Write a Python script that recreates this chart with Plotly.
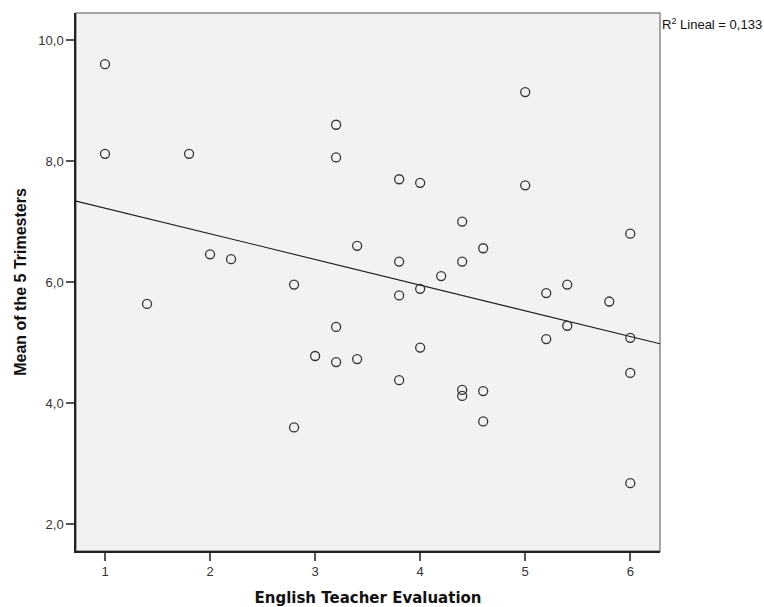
import numpy as np
import plotly.graph_objects as go

# English Teacher Evaluation vs. mean grade of the 5 trimesters
evaluation = [1.0, 1.0, 1.8, 2.0, 2.2, 1.4, 2.8, 2.8, 3.2, 3.2,
              3.8, 4.0, 5.0, 5.0, 4.4, 6.0, 3.4, 3.8, 4.4, 4.6,
              4.2, 4.0, 3.8, 5.2, 5.4, 5.8, 5.4, 5.2, 6.0, 3.2,
              3.0, 3.2, 3.4, 4.0, 3.8, 6.0, 4.4, 4.4, 4.6, 4.6,
              6.0]
trimester_mean = [9.60, 8.12, 8.12, 6.46, 6.38, 5.64, 5.96, 3.60, 8.60, 8.06,
                  7.70, 7.64, 7.60, 9.14, 7.00, 6.80, 6.60, 6.34, 6.34, 6.56,
                  6.10, 5.89, 5.78, 5.82, 5.96, 5.68, 5.28, 5.06, 5.08, 5.26,
                  4.78, 4.68, 4.73, 4.92, 4.38, 4.50, 4.22, 4.12, 4.20, 3.70,
                  2.68]

x_ticks = [1, 2, 3, 4, 5, 6]
y_ticks = [2, 4, 6, 8, 10]
x_range = [0.724, 6.283]
y_range = [1.559, 10.446]

# Least-squares line across the full x range, plus its R²
slope, intercept = np.polyfit(evaluation, trimester_mean, 1)
fit_x = np.array(x_range)
fit_y = intercept + slope * fit_x
pred = intercept + slope * np.array(evaluation)
ss_res = np.sum((np.array(trimester_mean) - pred) ** 2)
ss_tot = np.sum((np.array(trimester_mean) - np.mean(trimester_mean)) ** 2)
r2 = 1 - ss_res / ss_tot

fig = go.Figure()
fig.add_trace(go.Scatter(
    x=fit_x, y=fit_y, mode="lines",
    line=dict(color="#1a1a1a", width=1.1),
    hoverinfo="skip", showlegend=False,
))
fig.add_trace(go.Scatter(
    x=evaluation, y=trimester_mean, mode="markers",
    marker=dict(symbol="circle-open", size=9, color="#333333",
                line=dict(width=1.3, color="#333333")),
    showlegend=False,
))

font_family = "Liberation Sans, Arial, sans-serif"

fig.update_layout(
    width=764, height=607,
    margin=dict(l=76, r=104, t=13, b=56),
    paper_bgcolor="white",
    plot_bgcolor="#f2f2f2",
    separators=",.",
    font=dict(family=font_family, size=13, color="#222222"),
    xaxis=dict(
        range=x_range, tickvals=x_ticks, tickformat="d",
        automargin=False,
        showgrid=False, zeroline=False,
        showline=True, linecolor="#222222", linewidth=1.5,
        ticks="outside", ticklen=8, tickwidth=1.5, tickcolor="#555555",
        tickfont=dict(size=13, color="#333333"),
        title=dict(text="<b>English Teacher Evaluation</b>",
                   font=dict(family="DejaVu Sans, sans-serif", size=15,
                             color="#111111"),
                   standoff=16),
    ),
    yaxis=dict(
        range=y_range, tickvals=y_ticks, tickformat=".1f",
        automargin=False,
        showgrid=False, zeroline=False,
        showline=True, linecolor="#222222", linewidth=1.5,
        ticks="outside", ticklen=8, tickwidth=1.5, tickcolor="#555555",
        tickfont=dict(size=13, color="#333333"),
        title=dict(text="<b>Mean of the 5 Trimesters</b>",
                   font=dict(size=16, color="#111111"), standoff=8),
    ),
    shapes=[dict(
        type="rect", xref="paper", yref="paper", x0=0, x1=1, y0=0, y1=1,
        line=dict(color="#8a8a8a", width=1.5), layer="below",
    )],
    annotations=[dict(
        xref="paper", yref="paper", x=1, y=1, xanchor="left", yanchor="top",
        text="R<sup>2</sup> Lineal = " + f"{r2:.3f}".replace(".", ","),
        showarrow=False, font=dict(size=13, color="#111111"), yshift=-1,
    )],
)

fig.write_html("out.html")
